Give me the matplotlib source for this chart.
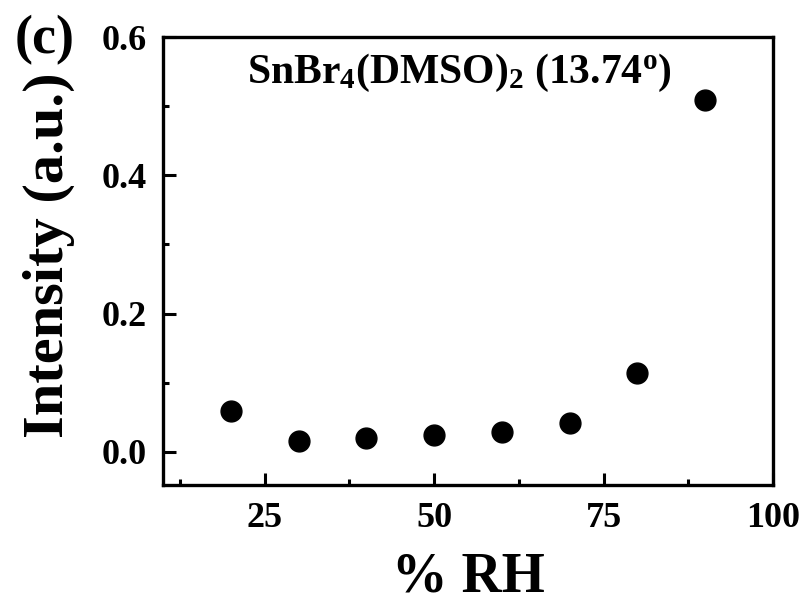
import matplotlib
matplotlib.use("Agg")
import matplotlib.pyplot as plt
from matplotlib.ticker import MultipleLocator

plt.rcParams['font.family'] = 'Liberation Serif'
plt.rcParams['font.weight'] = 'bold'
plt.rcParams['axes.labelweight'] = 'bold'
plt.rcParams['mathtext.fontset'] = 'custom'
plt.rcParams['mathtext.rm'] = 'Liberation Serif:bold'
plt.rcParams['mathtext.it'] = 'Liberation Serif:bold'
plt.rcParams['mathtext.bf'] = 'Liberation Serif:bold'

rh = [20, 30, 40, 50, 60, 70, 80, 90]
intensity = [0.059, 0.016, 0.020, 0.024, 0.029, 0.042, 0.114, 0.509]
xticks = [25, 50, 75, 100]
yticks = [0.0, 0.2, 0.4, 0.6]

fig = plt.figure(figsize=(8.05, 6.03), dpi=100)
ax = fig.add_axes([0.2025, 0.1957, 0.7578, 0.7429])

ax.plot(rh, intensity, 'o', color='black', markersize=15)

ax.set_xlim(10, 100)
ax.set_ylim(-0.048, 0.6)
ax.set_xticks(xticks)
ax.set_yticks(yticks)
ax.set_yticklabels(['%.1f' % v for v in yticks])
ax.xaxis.set_minor_locator(MultipleLocator(12.5))
ax.yaxis.set_minor_locator(MultipleLocator(0.1))
ax.tick_params(which='major', direction='in', length=9, width=2.2, labelsize=26, pad=12)
ax.tick_params(which='minor', direction='in', length=4.5, width=2.2)
ax.tick_params(top=False, right=False)
for s in ax.spines.values():
    s.set_linewidth(2.4)

ax.set_xlabel('% RH', fontsize=40, labelpad=12)
ax.set_ylabel('Intensity (a.u.)', fontsize=42)
ax.yaxis.set_label_coords(-0.145, 0.513)

ax.text(0.485, 0.897, r'SnBr$_4$(DMSO)$_2$ (13.74$^{\rm o}$)', transform=ax.transAxes,
        ha='center', va='baseline', fontsize=30)
fig.text(0.018, 0.912, '(c)', fontsize=39, ha='left', va='baseline')

plt.savefig('out.png', dpi=100)
